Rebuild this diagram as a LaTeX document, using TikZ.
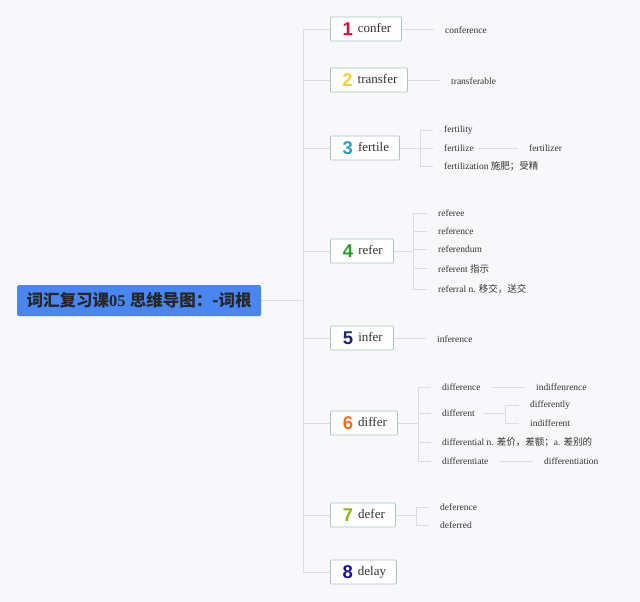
\documentclass[tikz,border=0pt]{standalone}
\usepackage{fontspec}
\setmainfont{Liberation Serif}
\newfontfamily\cjk{Noto Sans CJK SC}
\newfontfamily\numf{Liberation Sans}
\definecolor{bg}{HTML}{F8F8FA}
\definecolor{ln}{HTML}{D9DDDD}
\definecolor{bx}{HTML}{A3C9C1}
\definecolor{rootblue}{HTML}{4A86F0}
\definecolor{n1}{HTML}{D0103A}
\definecolor{n2}{HTML}{F2D13C}
\definecolor{n3}{HTML}{2A9BD8}
\definecolor{n4}{HTML}{2E9A2E}
\definecolor{n5}{HTML}{1D2470}
\definecolor{n6}{HTML}{F07020}
\definecolor{n7}{HTML}{8DB31F}
\definecolor{n8}{HTML}{2010A0}
\definecolor{txt}{HTML}{333333}
\begin{document}
\begin{tikzpicture}[x=1pt,y=-1pt,
  conn/.style={draw=ln,line width=0.9pt},
  wordbox/.style={draw=bx,fill=white,line width=0.8pt,rounded corners=1pt,anchor=west,minimum height=24pt,inner xsep=0pt,inner ysep=0pt,font=\fontsize{13}{15}\selectfont,text=txt},
  child/.style={anchor=west,inner xsep=11pt,inner ysep=1pt,font=\fontsize{9.5}{11}\selectfont,text=txt},
  rootbox/.style={fill=rootblue,rounded corners=1.5pt,minimum width=244pt,minimum height=31pt,anchor=west,inner sep=0pt,font=\fontsize{16.5}{19}\selectfont\bfseries,text=black!85}
]
\useasboundingbox (0,0) rectangle (640,602);
\fill[bg] (0,0) rectangle (640,602);
\newcommand\numb[2]{\raisebox{-2.5pt}{{\numf\bfseries\fontsize{18.5}{18}\selectfont\color{#1}#2}}\hspace{5pt}}
% root
\node[rootbox] (root) at (17,300.5) {{\cjk 词汇复习课}05 {\cjk 思维导图：-词根}};
\coordinate (trunkT) at (303,29);
\coordinate (trunkB) at (303,572);
\coordinate (trunkM) at (303,300.5);
\draw[conn] (trunkT) -- (trunkB);
\draw[conn] (root.east) -- (trunkM);
% boxes
\node[wordbox,minimum width=71pt] (b1) at (330,29) {\hspace{2pt}\numb{n1}{1}confer};
\node[wordbox,minimum width=77pt] (b2) at (330,80) {\hspace{2pt}\numb{n2}{2}transfer};
\node[wordbox,minimum width=69pt] (b3) at (330,148) {\hspace{2pt}\numb{n3}{3}fertile};
\node[wordbox,minimum width=63pt] (b4) at (330,251) {\hspace{2pt}\numb{n4}{4}refer};
\node[wordbox,minimum width=63pt] (b5) at (330,338) {\hspace{2pt}\numb{n5}{5}infer};
\node[wordbox,minimum width=67pt] (b6) at (330,423) {\hspace{2pt}\numb{n6}{6}differ};
\node[wordbox,minimum width=65pt] (b7) at (330,515) {\hspace{2pt}\numb{n7}{7}defer};
\node[wordbox,minimum width=66pt] (b8) at (330,572) {\hspace{2pt}\numb{n8}{8}delay};
\foreach \b in {b1,b2,b3,b4,b5,b6,b7,b8} \draw[conn] (trunkT |- \b.west) -- (\b.west);
% 1
\node[child] (c11) at (434,30) {conference};
\draw[conn] (b1.east) -- (b1.east -| c11.west);
% 2
\node[child] (c21) at (440,81) {transferable};
\draw[conn] (b2.east) -- (b2.east -| c21.west);
% 3
\node[child] (c31) at (433,130) {fertility};
\node[child] (c32) at (433,148) {fertilize};
\node[child] (c33) at (433,166.5) {fertilization {\cjk 施肥；受精}};
\node[child] (c321) at (518,148) {fertilizer};
\coordinate (k3) at (420,148);
\draw[conn] (b3.east) -- (k3);
\draw[conn] (k3 |- c31.west) -- (k3 |- c33.west);
\foreach \c in {c31,c32,c33} \draw[conn] (k3 |- \c.west) -- (\c.west);
\draw[conn] ([xshift=-7pt]c32.east) -- (c321.west);
% 4
\node[child] (c41) at (427,213) {referee};
\node[child] (c42) at (427,231) {reference};
\node[child] (c43) at (427,249) {referendum};
\node[child] (c44) at (427,268.5) {referent {\cjk 指示}};
\node[child] (c45) at (427,289) {referral n. {\cjk 移交，送交}};
\coordinate (k4) at (413,251);
\draw[conn] (b4.east) -- (k4);
\draw[conn] (k4 |- c41.west) -- (k4 |- c45.west);
\foreach \c in {c41,c42,c43,c44,c45} \draw[conn] (k4 |- \c.west) -- (\c.west);
% 5
\node[child] (c51) at (426,339) {inference};
\draw[conn] (b5.east) -- (b5.east -| c51.west);
% 6
\node[child] (c61) at (431,387.5) {difference};
\node[child] (c62) at (431,413.5) {different};
\node[child] (c63) at (431,442.5) {differential n. {\cjk 差价，差额；}a. {\cjk 差别的}};
\node[child] (c64) at (431,461.5) {differentiate};
\node[child] (c611) at (525,387.5) {indiffenrence};
\node[child] (c621) at (519,405.5) {differently};
\node[child] (c622) at (519,423) {indifferent};
\node[child] (c641) at (533,461.5) {differentiation};
\coordinate (k6) at (418,423);
\draw[conn] (b6.east) -- (k6);
\draw[conn] (k6 |- c61.west) -- (k6 |- c64.west);
\foreach \c in {c61,c62,c63,c64} \draw[conn] (k6 |- \c.west) -- (\c.west);
\draw[conn] (c61.east) -- (c611.west);
\draw[conn] (c64.east) -- (c641.west);
\coordinate (k62) at (505,413.5);
\draw[conn] ([xshift=-2pt]c62.east) -- (k62);
\draw[conn] (k62 |- c621.west) -- (k62 |- c622.west);
\foreach \c in {c621,c622} \draw[conn] (k62 |- \c.west) -- (\c.west);
% 7
\node[child] (c71) at (429,507) {deference};
\node[child] (c72) at (429,525) {deferred};
\coordinate (k7) at (416,515);
\draw[conn] (b7.east) -- (k7);
\draw[conn] (k7 |- c71.west) -- (k7 |- c72.west);
\foreach \c in {c71,c72} \draw[conn] (k7 |- \c.west) -- (\c.west);
\end{tikzpicture}
\end{document}
